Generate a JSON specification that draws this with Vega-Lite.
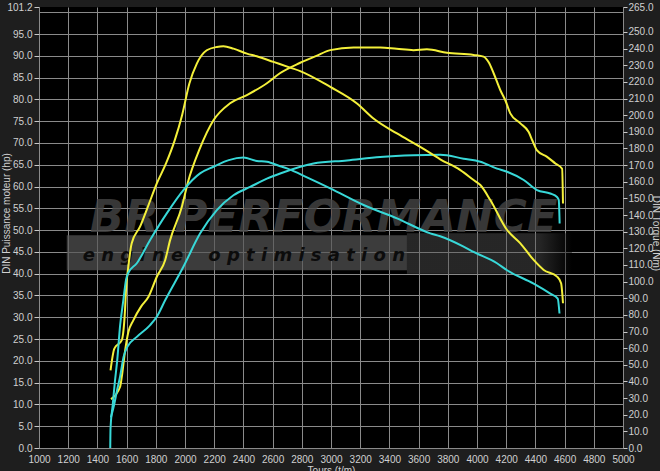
{
  "$schema": "https://vega.github.io/schema/vega-lite/v6.json",
  "width": 584,
  "height": 441,
  "autosize": {"type": "none"},
  "padding": {"left": 39, "top": 7, "right": 37, "bottom": 23},
  "background": "#1e1e1e",
  "config": {
    "view": {"fill": "#000000", "stroke": null},
    "font": "Liberation Sans",
    "axis": {
      "labelColor": "#d0d0d0",
      "labelFontSize": 10,
      "titleColor": "#d0d0d0",
      "titleFontSize": 10,
      "titleFontWeight": "normal",
      "domain": false,
      "tickColor": "#c8c8c8",
      "gridColor": "#8a8a8a",
      "gridWidth": 1
    },
    "axisX": {
      "values": [1000, 1200, 1400, 1600, 1800, 2000, 2200, 2400, 2600, 2800, 3000, 3200, 3400, 3600, 3800, 4000, 4200, 4400, 4600, 4800, 5000],
      "format": "d",
      "grid": true, "ticks": false, "labelPadding": 6, "labelFlush": false,
      "titlePadding": 1
    }
  },
  "datasets": {
    "power": [
      {"rpm": 1493, "hp": 11.2, "version": "tuned"},
      {"rpm": 1555, "hp": 14.0, "version": "tuned"},
      {"rpm": 1567, "hp": 16.3, "version": "tuned"},
      {"rpm": 1590, "hp": 22.4, "version": "tuned"},
      {"rpm": 1612, "hp": 26.6, "version": "tuned"},
      {"rpm": 1646, "hp": 29.3, "version": "tuned"},
      {"rpm": 1700, "hp": 32.5, "version": "tuned"},
      {"rpm": 1750, "hp": 34.7, "version": "tuned"},
      {"rpm": 1807, "hp": 39.3, "version": "tuned"},
      {"rpm": 1864, "hp": 43.1, "version": "tuned"},
      {"rpm": 1898, "hp": 47.7, "version": "tuned"},
      {"rpm": 1978, "hp": 55.3, "version": "tuned"},
      {"rpm": 2020, "hp": 61.0, "version": "tuned"},
      {"rpm": 2099, "hp": 68.5, "version": "tuned"},
      {"rpm": 2195, "hp": 75.2, "version": "tuned"},
      {"rpm": 2309, "hp": 79.1, "version": "tuned"},
      {"rpm": 2424, "hp": 81.0, "version": "tuned"},
      {"rpm": 2561, "hp": 83.7, "version": "tuned"},
      {"rpm": 2650, "hp": 86.0, "version": "tuned"},
      {"rpm": 2789, "hp": 88.4, "version": "tuned"},
      {"rpm": 2900, "hp": 90.0, "version": "tuned"},
      {"rpm": 2995, "hp": 91.3, "version": "tuned"},
      {"rpm": 3154, "hp": 91.9, "version": "tuned"},
      {"rpm": 3337, "hp": 91.9, "version": "tuned"},
      {"rpm": 3450, "hp": 91.6, "version": "tuned"},
      {"rpm": 3565, "hp": 91.3, "version": "tuned"},
      {"rpm": 3657, "hp": 91.5, "version": "tuned"},
      {"rpm": 3794, "hp": 90.7, "version": "tuned"},
      {"rpm": 3977, "hp": 90.2, "version": "tuned"},
      {"rpm": 4045, "hp": 89.8, "version": "tuned"},
      {"rpm": 4080, "hp": 88.5, "version": "tuned"},
      {"rpm": 4114, "hp": 86.0, "version": "tuned"},
      {"rpm": 4160, "hp": 82.1, "version": "tuned"},
      {"rpm": 4194, "hp": 79.8, "version": "tuned"},
      {"rpm": 4228, "hp": 76.8, "version": "tuned"},
      {"rpm": 4297, "hp": 74.5, "version": "tuned"},
      {"rpm": 4354, "hp": 72.5, "version": "tuned"},
      {"rpm": 4380, "hp": 70.5, "version": "tuned"},
      {"rpm": 4411, "hp": 68.3, "version": "tuned"},
      {"rpm": 4480, "hp": 66.8, "version": "tuned"},
      {"rpm": 4537, "hp": 65.3, "version": "tuned"},
      {"rpm": 4583, "hp": 64.1, "version": "tuned"},
      {"rpm": 4589, "hp": 56.1, "version": "tuned"},
      {"rpm": 1492, "hp": 7.0, "version": "stock"},
      {"rpm": 1515, "hp": 10.0, "version": "stock"},
      {"rpm": 1533, "hp": 13.0, "version": "stock"},
      {"rpm": 1556, "hp": 16.5, "version": "stock"},
      {"rpm": 1580, "hp": 21.0, "version": "stock"},
      {"rpm": 1605, "hp": 23.2, "version": "stock"},
      {"rpm": 1670, "hp": 25.5, "version": "stock"},
      {"rpm": 1761, "hp": 28.2, "version": "stock"},
      {"rpm": 1810, "hp": 30.3, "version": "stock"},
      {"rpm": 1864, "hp": 33.9, "version": "stock"},
      {"rpm": 1989, "hp": 41.6, "version": "stock"},
      {"rpm": 2103, "hp": 49.2, "version": "stock"},
      {"rpm": 2218, "hp": 54.6, "version": "stock"},
      {"rpm": 2332, "hp": 58.0, "version": "stock"},
      {"rpm": 2446, "hp": 59.9, "version": "stock"},
      {"rpm": 2561, "hp": 61.8, "version": "stock"},
      {"rpm": 2652, "hp": 63.0, "version": "stock"},
      {"rpm": 2880, "hp": 65.3, "version": "stock"},
      {"rpm": 3109, "hp": 66.0, "version": "stock"},
      {"rpm": 3337, "hp": 66.8, "version": "stock"},
      {"rpm": 3565, "hp": 67.2, "version": "stock"},
      {"rpm": 3748, "hp": 67.3, "version": "stock"},
      {"rpm": 3908, "hp": 66.4, "version": "stock"},
      {"rpm": 4023, "hp": 65.7, "version": "stock"},
      {"rpm": 4137, "hp": 64.1, "version": "stock"},
      {"rpm": 4206, "hp": 63.4, "version": "stock"},
      {"rpm": 4320, "hp": 61.5, "version": "stock"},
      {"rpm": 4411, "hp": 59.2, "version": "stock"},
      {"rpm": 4502, "hp": 58.4, "version": "stock"},
      {"rpm": 4548, "hp": 57.6, "version": "stock"},
      {"rpm": 4560, "hp": 56.9, "version": "stock"},
      {"rpm": 4566, "hp": 51.5, "version": "stock"}
    ],
    "torque": [
      {"rpm": 1490, "nm": 46.7, "version": "tuned"},
      {"rpm": 1516, "nm": 59.7, "version": "tuned"},
      {"rpm": 1567, "nm": 64.8, "version": "tuned"},
      {"rpm": 1589, "nm": 82.7, "version": "tuned"},
      {"rpm": 1596, "nm": 95.0, "version": "tuned"},
      {"rpm": 1612, "nm": 109.0, "version": "tuned"},
      {"rpm": 1635, "nm": 123.0, "version": "tuned"},
      {"rpm": 1692, "nm": 133.0, "version": "tuned"},
      {"rpm": 1750, "nm": 146.0, "version": "tuned"},
      {"rpm": 1807, "nm": 159.0, "version": "tuned"},
      {"rpm": 1870, "nm": 171.0, "version": "tuned"},
      {"rpm": 1930, "nm": 185.0, "version": "tuned"},
      {"rpm": 1980, "nm": 200.0, "version": "tuned"},
      {"rpm": 2030, "nm": 219.0, "version": "tuned"},
      {"rpm": 2081, "nm": 231.0, "version": "tuned"},
      {"rpm": 2149, "nm": 239.0, "version": "tuned"},
      {"rpm": 2218, "nm": 241.0, "version": "tuned"},
      {"rpm": 2263, "nm": 241.4, "version": "tuned"},
      {"rpm": 2332, "nm": 240.0, "version": "tuned"},
      {"rpm": 2424, "nm": 237.0, "version": "tuned"},
      {"rpm": 2492, "nm": 235.4, "version": "tuned"},
      {"rpm": 2606, "nm": 232.0, "version": "tuned"},
      {"rpm": 2720, "nm": 228.6, "version": "tuned"},
      {"rpm": 2789, "nm": 226.5, "version": "tuned"},
      {"rpm": 2995, "nm": 217.0, "version": "tuned"},
      {"rpm": 3178, "nm": 207.0, "version": "tuned"},
      {"rpm": 3291, "nm": 198.0, "version": "tuned"},
      {"rpm": 3452, "nm": 189.0, "version": "tuned"},
      {"rpm": 3611, "nm": 181.0, "version": "tuned"},
      {"rpm": 3748, "nm": 173.5, "version": "tuned"},
      {"rpm": 3886, "nm": 167.0, "version": "tuned"},
      {"rpm": 3977, "nm": 161.0, "version": "tuned"},
      {"rpm": 4023, "nm": 158.0, "version": "tuned"},
      {"rpm": 4091, "nm": 149.0, "version": "tuned"},
      {"rpm": 4206, "nm": 131.0, "version": "tuned"},
      {"rpm": 4297, "nm": 123.0, "version": "tuned"},
      {"rpm": 4388, "nm": 113.0, "version": "tuned"},
      {"rpm": 4457, "nm": 107.0, "version": "tuned"},
      {"rpm": 4548, "nm": 103.0, "version": "tuned"},
      {"rpm": 4576, "nm": 99.0, "version": "tuned"},
      {"rpm": 4589, "nm": 87.0, "version": "tuned"},
      {"rpm": 1488, "nm": 0.0, "version": "stock"},
      {"rpm": 1490, "nm": 12.0, "version": "stock"},
      {"rpm": 1505, "nm": 26.0, "version": "stock"},
      {"rpm": 1520, "nm": 40.0, "version": "stock"},
      {"rpm": 1535, "nm": 52.0, "version": "stock"},
      {"rpm": 1556, "nm": 74.0, "version": "stock"},
      {"rpm": 1578, "nm": 89.0, "version": "stock"},
      {"rpm": 1596, "nm": 101.0, "version": "stock"},
      {"rpm": 1610, "nm": 105.0, "version": "stock"},
      {"rpm": 1670, "nm": 111.0, "version": "stock"},
      {"rpm": 1761, "nm": 125.0, "version": "stock"},
      {"rpm": 1875, "nm": 141.0, "version": "stock"},
      {"rpm": 1989, "nm": 155.0, "version": "stock"},
      {"rpm": 2103, "nm": 165.0, "version": "stock"},
      {"rpm": 2195, "nm": 169.0, "version": "stock"},
      {"rpm": 2300, "nm": 173.0, "version": "stock"},
      {"rpm": 2400, "nm": 174.5, "version": "stock"},
      {"rpm": 2492, "nm": 172.5, "version": "stock"},
      {"rpm": 2561, "nm": 172.0, "version": "stock"},
      {"rpm": 2652, "nm": 169.3, "version": "stock"},
      {"rpm": 2698, "nm": 168.0, "version": "stock"},
      {"rpm": 2850, "nm": 162.0, "version": "stock"},
      {"rpm": 2995, "nm": 156.0, "version": "stock"},
      {"rpm": 3223, "nm": 146.0, "version": "stock"},
      {"rpm": 3452, "nm": 138.0, "version": "stock"},
      {"rpm": 3680, "nm": 129.0, "version": "stock"},
      {"rpm": 3748, "nm": 127.2, "version": "stock"},
      {"rpm": 3908, "nm": 121.0, "version": "stock"},
      {"rpm": 3977, "nm": 117.8, "version": "stock"},
      {"rpm": 4137, "nm": 111.0, "version": "stock"},
      {"rpm": 4206, "nm": 106.8, "version": "stock"},
      {"rpm": 4388, "nm": 98.8, "version": "stock"},
      {"rpm": 4502, "nm": 92.8, "version": "stock"},
      {"rpm": 4553, "nm": 89.8, "version": "stock"},
      {"rpm": 4565, "nm": 80.8, "version": "stock"}
    ]
  },
  "layer": [
    {
      "data": {"values": [{}]},
      "mark": {"type": "rect", "color": "#555555", "opacity": 0.7},
      "encoding": {
        "x": {"datum": 1190, "type": "quantitative", "scale": {"domain": [1000, 5000], "nice": false}, "title": "Tours (t/m)"},
        "x2": {"datum": 3520},
        "y": {"datum": 40.8, "type": "quantitative", "scale": {"domain": [0, 101.2], "nice": false, "zero": false}, "axis": null},
        "y2": {"datum": 48.8}
      }
    },
    {
      "data": {"values": [{}]},
      "mark": {"type": "rect", "opacity": 0.45, "color": {"gradient": "linear", "x1": 0, "x2": 1, "y1": 0, "y2": 0, "stops": [{"offset": 0, "color": "#555555"}, {"offset": 0.8, "color": "#555555"}, {"offset": 1, "color": "#000000"}]}},
      "encoding": {
        "x": {"datum": 3520, "type": "quantitative", "scale": {"domain": [1000, 5000], "nice": false}, "title": "Tours (t/m)"},
        "x2": {"datum": 4650},
        "y": {"datum": 40.0, "type": "quantitative", "scale": {"domain": [0, 101.2], "nice": false, "zero": false}, "axis": null},
        "y2": {"datum": 49.3}
      }
    },
    {
      "data": {"values": [{}]},
      "mark": {"type": "text", "text": "BR PERFORMANCE", "font": "DejaVu Sans", "fontSize": 45, "fontWeight": "bold", "fontStyle": "italic", "color": "#454545", "opacity": 0.8, "align": "center", "baseline": "alphabetic"},
      "encoding": {
        "x": {"datum": 2950, "type": "quantitative", "scale": {"domain": [1000, 5000], "nice": false}, "title": "Tours (t/m)"},
        "y": {"datum": 49.6, "type": "quantitative", "scale": {"domain": [0, 101.2], "nice": false, "zero": false}, "axis": null}
      }
    },
    {
      "data": {"values": [{}]},
      "mark": {"type": "text", "text": "e n g i n e\u00a0\u00a0\u00a0\u00a0o p t i m i s a t i o n", "font": "DejaVu Sans", "fontSize": 18, "fontWeight": "bold", "fontStyle": "italic", "color": "#0c0c0c", "align": "left", "baseline": "alphabetic"},
      "encoding": {
        "x": {"datum": 1300, "type": "quantitative", "scale": {"domain": [1000, 5000], "nice": false}, "title": "Tours (t/m)"},
        "y": {"datum": 43.0, "type": "quantitative", "scale": {"domain": [0, 101.2], "nice": false, "zero": false}, "axis": null}
      }
    },
    {
      "data": {"name": "power"},
      "mark": {"type": "line", "strokeWidth": 2, "interpolate": "monotone"},
      "encoding": {
        "x": {"field": "rpm", "type": "quantitative", "scale": {"domain": [1000, 5000], "nice": false}, "title": "Tours (t/m)"},
        "y": {
          "field": "hp", "type": "quantitative",
          "scale": {"domain": [0, 101.2], "nice": false, "zero": false},
          "axis": {
            "orient": "left",
            "values": [0, 5, 10, 15, 20, 25, 30, 35, 40, 45, 50, 55, 60, 65, 70, 75, 80, 85, 90, 95, 100, 101.2],
            "labelExpr": "datum.value == 100 ? '' : format(datum.value, '.1f')",
            "grid": true,
            "gridOpacity": {"condition": {"test": "datum.value > 100.5", "value": 0}, "value": 1},
            "tickOpacity": {"condition": {"test": "datum.value == 100", "value": 0}, "value": 1},
            "tickSize": 5, "labelPadding": 2, "labelFlush": false,
            "title": "DIN Puissance moteur (hp)",
            "titleX": -33, "titleY": 206, "titleBaseline": "middle", "titleAngle": -90
          }
        },
        "color": {"field": "version", "type": "nominal", "scale": {"domain": ["tuned", "stock"], "range": ["#f4f03a", "#38d8d8"]}, "legend": null}
      }
    },
    {
      "data": {"name": "torque"},
      "mark": {"type": "line", "strokeWidth": 2, "interpolate": "monotone"},
      "encoding": {
        "x": {"field": "rpm", "type": "quantitative", "scale": {"domain": [1000, 5000], "nice": false}, "title": "Tours (t/m)"},
        "y": {
          "field": "nm", "type": "quantitative",
          "scale": {"domain": [0, 265], "nice": false, "zero": false},
          "axis": {
            "orient": "right",
            "values": [0, 10, 20, 30, 40, 50, 60, 70, 80, 90, 100, 110, 120, 130, 140, 150, 160, 170, 180, 190, 200, 210, 220, 230, 240, 250, 265],
            "format": ".1f", "grid": false, "tickSize": 4, "labelPadding": 1, "labelFlush": false,
            "title": "DIN Torque (Nm)",
            "titleX": 32, "titleY": 226, "titleBaseline": "middle", "titleAngle": 90
          }
        },
        "color": {"field": "version", "type": "nominal", "legend": null}
      }
    }
  ],
  "resolve": {"scale": {"y": "independent"}}
}
